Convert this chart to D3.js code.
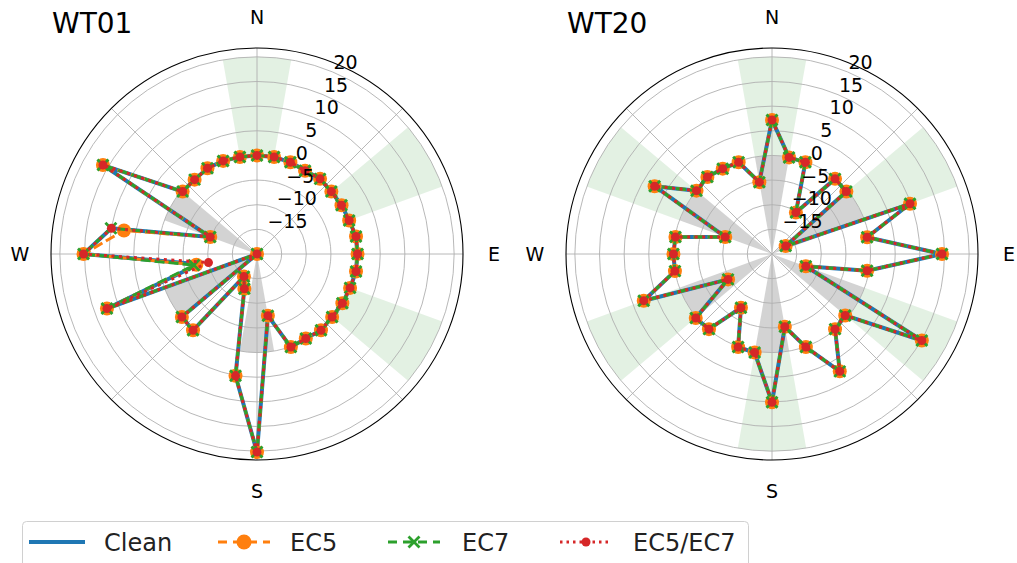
<!DOCTYPE html>
<html>
<head>
<meta charset="utf-8">
<script src="https://cdn.jsdelivr.net/npm/d3@7"></script>
<style>
html,body{margin:0;padding:0;background:#fff;}
svg{display:block;font-family:"DejaVu Sans",sans-serif;}
</style>
</head>
<body>
<svg id="chart" width="1017" height="563"></svg>
<script>
// ---- data ----
const angles = d3.range(0, 360, 10); // degrees, clockwise from North
const radialTicks = [-15, -10, -5, 0, 5, 10, 15, 20];
const compassLabels = ["N", "E", "S", "W"];
const seriesNames = ["Clean", "EC5", "EC7", "EC5/EC7"];

const wt01Clean = [0,0,-0.2,-0.5,-0.1,-0.3,-0.2,-0.1,0.4,0.4,0.4,0.1,0,-0.1,0.2,-0.2,0.1,-7.3,20.2,5.1,-12.5,-14.7,0.2,-0.1,-20,12.4,-8,15.2,10,-9.9,16.1,-0.3,-0.3,0.1,0.1,0];
const wt01EC5   = [0,0,-0.2,-0.5,-0.1,-0.3,-0.2,-0.1,0.4,0.4,0.4,0.1,0,-0.1,0.2,-0.2,0.1,-7.3,20.2,5.1,-12.5,-14.7,0.2,-0.1,-20,12.4,-7.5,15.2,7.4,-9.9,16.1,-0.3,-0.3,0.1,0.1,0];
const wt01EC7   = [0,0,-0.2,-0.5,-0.1,-0.3,-0.2,-0.1,0.4,0.4,0.4,0.1,0,-0.1,0.2,-0.2,0.1,-7.3,20.2,5.1,-12.5,-14.7,0.2,-0.1,-20,12.4,-7,15.2,10.1,-9.9,16.1,-0.3,-0.3,0.1,0.1,0];
const wt01EC57  = [0,0,-0.2,-0.5,-0.1,-0.3,-0.2,-0.1,0.4,0.4,0.4,0.1,0,-0.1,0.2,-0.2,0.1,-7.3,20.2,5.1,-12.5,-14.7,0.2,-0.1,-20,12.4,-10,15.2,10,-9.9,16.1,-0.3,-0.3,0.1,0.1,0];

const wt20Clean = [7.2,-0.1,-0.2,-10.3,-0.1,-0.3,-16.8,9.8,-0.4,14.5,-0.4,-12.7,15.1,-0.6,-0.1,7.5,0.1,-5,10.1,0.3,0.1,-7.4,-0.1,0.2,-9.7,7.7,0,0,-0.1,-9.9,7.5,0,0.4,0,-0.2,-5.2];
const wt20EC5   = wt20Clean.slice();
const wt20EC7   = wt20Clean.slice();
const wt20EC57  = wt20Clean.slice();

// shaded sectors (centre angle, degrees)
const wt01GreenBars = [0, 60, 120];
const wt01GreyBars  = [180, 240, 300];
const wt20GreenBars = [0, 60, 120, 180, 240, 300];
const wt20GreyBars  = [0, 60, 120, 180, 240, 300];

// ---- drawing ----
const svg = d3.select("#chart");
const R = 206;
const rScale = d3.scaleLinear().domain([-20, 21.8]).range([0, R]);
const toRad = d => d * Math.PI / 180;
const colors = {"Clean":"#1f77b4","EC5":"#ff7f0e","EC7":"#2ca02c","EC5/EC7":"#d62728"};

const panels = [
  {title:"WT01", cx:257, cy:254, tx:52, series:[wt01Clean, wt01EC5, wt01EC7, wt01EC57], green:wt01GreenBars, grey:wt01GreyBars},
  {title:"WT20", cx:772, cy:254, tx:567, series:[wt20Clean, wt20EC5, wt20EC7, wt20EC57], green:wt20GreenBars, grey:wt20GreyBars}
];

const barHalf = 10;

panels.forEach(p => {
  const g = svg.append("g").attr("transform", `translate(${p.cx},${p.cy})`);

  // bars
  const greenArc = d3.arc().innerRadius(rScale(0)).outerRadius(rScale(20));
  const greyArc = d3.arc().innerRadius(rScale(-20)).outerRadius(rScale(0));
  g.selectAll("path.green").data(p.green).join("path")
    .attr("d", a => greenArc({startAngle: toRad(a - barHalf), endAngle: toRad(a + barHalf)}))
    .attr("fill", "#008000").attr("fill-opacity", 0.11);
  g.selectAll("path.grey").data(p.grey).join("path")
    .attr("d", a => greyArc({startAngle: toRad(a - barHalf), endAngle: toRad(a + barHalf)}))
    .attr("fill", "#808080").attr("fill-opacity", 0.35);

  // grid circles
  g.selectAll("circle.grid").data(radialTicks).join("circle")
    .attr("r", d => rScale(d)).attr("fill", "none")
    .attr("stroke", "#b0b0b0").attr("stroke-width", 0.9);
  // spokes
  g.selectAll("line.spoke").data(d3.range(0, 360, 45)).join("line")
    .attr("x1", 0).attr("y1", 0)
    .attr("x2", a => R * Math.sin(toRad(a)))
    .attr("y2", a => -R * Math.cos(toRad(a)))
    .attr("stroke", "#b0b0b0").attr("stroke-width", 0.9);
  // outer spine
  g.append("circle").attr("r", R).attr("fill", "none").attr("stroke", "#000").attr("stroke-width", 1.1);

  // series
  const pt = (v, a) => [rScale(v) * Math.sin(toRad(a)), -rScale(v) * Math.cos(toRad(a))];
  const line = d3.line().curve(d3.curveLinearClosed);
  const styles = [
    {w:4, dash:null},
    {w:3, dash:"10,4"},
    {w:3, dash:"10,4"},
    {w:3, dash:"3,4.5"}
  ];
  p.series.forEach((vals, si) => {
    const name = seriesNames[si];
    const pts = vals.map((v, i) => pt(v, angles[i]));
    g.append("path").attr("d", line(pts)).attr("fill", "none")
      .attr("stroke", colors[name]).attr("stroke-width", styles[si].w)
      .attr("stroke-dasharray", styles[si].dash).attr("stroke-linejoin", "round");
    if (si === 1) {
      g.selectAll(null).data(pts).join("circle")
        .attr("cx", d => d[0]).attr("cy", d => d[1]).attr("r", 7).attr("fill", colors[name]);
    } else if (si === 2) {
      const s = 5.5;
      g.selectAll(null).data(pts).join("path")
        .attr("d", d => `M${d[0]-s},${d[1]-s}L${d[0]+s},${d[1]+s}M${d[0]-s},${d[1]+s}L${d[0]+s},${d[1]-s}`)
        .attr("stroke", colors[name]).attr("stroke-width", 2.8).attr("fill", "none");
    } else if (si === 3) {
      g.selectAll(null).data(pts).join("circle")
        .attr("cx", d => d[0]).attr("cy", d => d[1]).attr("r", 4.5).attr("fill", colors[name]);
    }
  });

  // radial tick labels at 22.5 deg
  g.selectAll("text.rt").data(radialTicks).join("text")
    .attr("x", d => rScale(d) * Math.sin(toRad(22.5)) + 1)
    .attr("y", d => -rScale(d) * Math.cos(toRad(22.5)) - 3)
    .attr("font-size", 19).attr("fill", "#000")
    .text(d => d < 0 ? "\u2212" + Math.abs(d) : d);

  // compass labels
  const off = 237;
  g.selectAll("text.cmp").data(compassLabels).join("text")
    .attr("x", (d, i) => off * Math.sin(toRad(i * 90)))
    .attr("y", (d, i) => -off * Math.cos(toRad(i * 90)))
    .attr("text-anchor", "middle").attr("dominant-baseline", "central")
    .attr("font-size", 19).attr("fill", "#000").text(d => d);

  // title
  svg.append("text").attr("x", p.tx).attr("y", 33).attr("font-size", 28).attr("fill", "#000").text(p.title);
});

// ---- legend ----
const lg = svg.append("g");
lg.append("rect").attr("x", 22.5).attr("y", 521.5).attr("width", 726).attr("height", 60).attr("rx", 4)
  .attr("fill", "#fff").attr("stroke", "#d0d0d0").attr("stroke-width", 1);
const legendItems = [
  {name:"Clean", hx:29, tx:104},
  {name:"EC5", hx:218, tx:290},
  {name:"EC7", hx:388, tx:462},
  {name:"EC5/EC7", hx:560, tx:633}
];
const ly = 542;
legendItems.forEach((it, i) => {
  const c = colors[it.name];
  if (i === 0) {
    lg.append("line").attr("x1", it.hx).attr("x2", it.hx + 56).attr("y1", ly).attr("y2", ly)
      .attr("stroke", c).attr("stroke-width", 4);
  } else {
    const dash = i === 3 ? "2.5,4" : "9,6";
    lg.append("line").attr("x1", it.hx).attr("x2", it.hx + 52).attr("y1", ly).attr("y2", ly)
      .attr("stroke", c).attr("stroke-width", 3).attr("stroke-dasharray", dash);
    const mx = it.hx + 26;
    if (i === 1) lg.append("circle").attr("cx", mx).attr("cy", ly).attr("r", 7.5).attr("fill", c);
    if (i === 2) {
      const s = 5.5;
      lg.append("path").attr("d", `M${mx-s},${ly-s}L${mx+s},${ly+s}M${mx-s},${ly+s}L${mx+s},${ly-s}`)
        .attr("stroke", c).attr("stroke-width", 2.8);
    }
    if (i === 3) lg.append("circle").attr("cx", mx).attr("cy", ly).attr("r", 4.5).attr("fill", c);
  }
  lg.append("text").attr("x", it.tx).attr("y", ly + 9).attr("font-size", 24).attr("fill", "#222").text(it.name);
});
</script>
</body>
</html>
